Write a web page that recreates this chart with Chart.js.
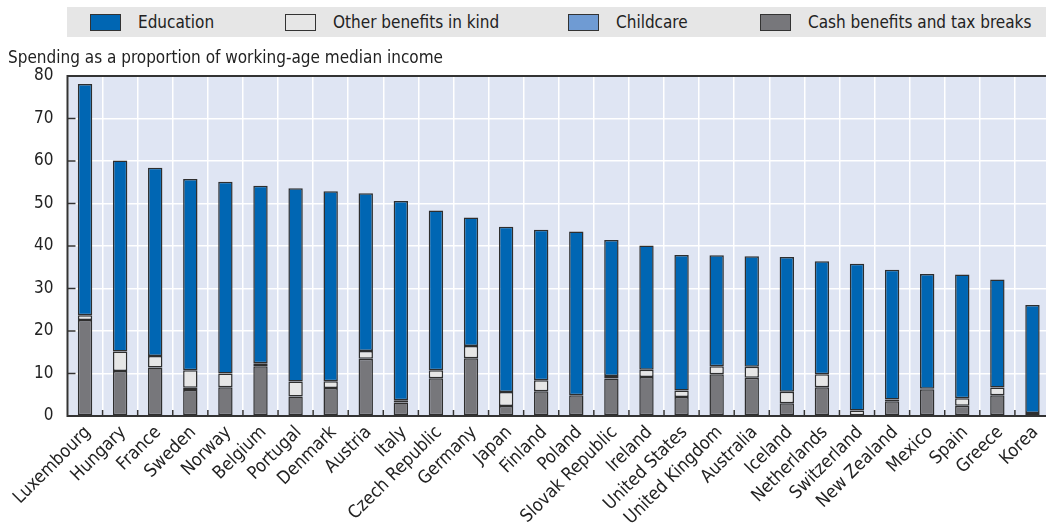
<!DOCTYPE html>
<html>
<head>
<meta charset="utf-8">
<script src="https://cdn.jsdelivr.net/npm/chart.js@4.4.1/dist/chart.umd.min.js"></script>
<style>
  html, body { margin: 0; padding: 0; overflow: hidden; background: #ffffff; width: 1046px; height: 530px; }
  #wrap { position: relative; width: 1046px; height: 530px; overflow: hidden; }
  canvas { position: absolute; left: 0; top: 0; }
  .legend { position: absolute; left: 67px; top: 7px; width: 1000px; height: 30px; background: #e6e6e6; }
  .item { position: absolute; top: 0; height: 30px; display: flex; align-items: center;
          font-family: 'Liberation Sans Narrow', 'DejaVu Sans Condensed', 'Roboto Condensed', sans-serif;
          font-size: 17px; color: #222; white-space: nowrap; }
  .swatch { width: 29px; height: 15px; border: 1px solid #333; margin-right: 17px; }
  .ytitle { position: absolute; left: 8px; top: 47px;
            font-family: 'Liberation Sans Narrow', 'DejaVu Sans Condensed', 'Roboto Condensed', sans-serif;
            font-size: 17px; color: #222; white-space: nowrap; }
</style>
</head>
<body>
<div id="wrap">
  <canvas id="chart" width="1056" height="530"></canvas>
  <div class="legend" id="legend"></div>
  <div class="ytitle" id="ytitle"></div>
</div>
<script>
// Countries, ordered by total spending
const countries = ["Luxembourg", "Hungary", "France", "Sweden", "Norway", "Belgium", "Portugal",
  "Denmark", "Austria", "Italy", "Czech Republic", "Germany", "Japan", "Finland", "Poland",
  "Slovak Republic", "Ireland", "United States", "United Kingdom", "Australia", "Iceland",
  "Netherlands", "Switzerland", "New Zealand", "Mexico", "Spain", "Greece", "Korea"];

// Spending components (% of working-age median income)
const cashBenefits = [22.6, 10.6, 11.4, 6.1, 6.75, 11.7, 4.6, 6.6, 13.5, 3.2, 8.9, 13.6, 2.35, 5.8,
  4.9, 8.8, 9.2, 4.5, 9.8, 9.0, 3.0, 6.75, 0.2, 3.5, 6.3, 2.4, 4.9, 0.7];
const childcare = [0, 0, 0, 0.55, 0, 0, 0, 0, 0, 0, 0, 0, 0, 0,
  0, 0, 0, 0, 0, 0, 0, 0, 0, 0, 0, 0, 0, 0];
const otherInKind = [1.1, 4.6, 2.7, 4.1, 3.25, 0.7, 3.5, 1.6, 1.8, 0.5, 1.85, 2.9, 3.3, 2.6,
  0, 0.6, 1.7, 1.5, 1.9, 2.6, 2.7, 3.05, 1.1, 0.4, 0.1, 1.8, 1.8, 0];
const education = [54.4, 44.9, 44.3, 45.0, 45.1, 41.8, 45.5, 44.7, 37.1, 46.9, 37.6, 30.2, 38.9, 35.4,
  38.5, 32.0, 29.2, 31.9, 26.1, 26.0, 31.7, 26.6, 34.5, 30.5, 27.0, 29.1, 25.4, 25.4];

// Y axis
const yMin = 0, yMax = 80, yStep = 10;
const yTitle = "Spending as a proportion of working-age median income";

const FONT = "'Liberation Sans Narrow', 'DejaVu Sans Condensed', 'Roboto Condensed', sans-serif";
const colors = {
  education: "#0066b3",
  other: "#e6e6e6",
  childcare: "#6f9bd3",
  cash: "#77777b"
};

// Stacked bottom-to-top: cash, childcare, other, education
const datasets = [
  { label: "Cash benefits and tax breaks", data: cashBenefits, backgroundColor: colors.cash },
  { label: "Childcare", data: childcare, backgroundColor: colors.childcare },
  { label: "Other benefits in kind", data: otherInKind, backgroundColor: colors.other },
  { label: "Education", data: education, backgroundColor: colors.education }
].map(d => Object.assign(d, {
  borderColor: "#2e2e2e",
  borderWidth: 1.5,
  borderSkipped: false,
  categoryPercentage: 1.0,
  barPercentage: 0.41
}));

// Legend strip (Education, Other, Childcare, Cash)
const legendOrder = [3, 2, 1, 0];
const legendX = [23, 218, 501, 693];
const legendEl = document.getElementById("legend");
legendOrder.forEach((di, i) => {
  const it = document.createElement("div");
  it.className = "item";
  it.style.left = legendX[i] + "px";
  const sw = document.createElement("div");
  sw.className = "swatch";
  sw.style.background = datasets[di].backgroundColor;
  it.appendChild(sw);
  it.appendChild(document.createTextNode(datasets[di].label));
  legendEl.appendChild(it);
});
document.getElementById("ytitle").textContent = yTitle;

// Plot background, frame and inward tick marks
const framePlugin = {
  id: "frame",
  beforeDraw(chart) {
    const a = chart.chartArea, c = chart.ctx;
    c.save();
    c.fillStyle = "#dfe5f3";
    c.fillRect(a.left, a.top, a.right - a.left, a.bottom - a.top);
    c.restore();
  },
  afterDatasetsDraw(chart) {
    const a = chart.chartArea, c = chart.ctx;
    const xs = chart.scales.x, ys = chart.scales.y;
    c.save();
    c.strokeStyle = "#333333";
    c.lineWidth = 1.5;
    // inward ticks on the y axis
    for (let v = yMin + yStep; v < yMax; v += yStep) {
      const y = ys.getPixelForValue(v);
      c.beginPath(); c.moveTo(a.left, y); c.lineTo(a.left + 8, y); c.stroke();
    }
    // inward ticks between categories on the x axis
    for (let i = 1; i < countries.length; i++) {
      const x = (xs.getPixelForValue(i - 1) + xs.getPixelForValue(i)) / 2;
      c.beginPath(); c.moveTo(x, a.bottom); c.lineTo(x, a.bottom - 6); c.stroke();
    }
    c.lineWidth = 2;
    c.beginPath();
    c.moveTo(a.right + 5, a.top);
    c.lineTo(a.left, a.top);
    c.lineTo(a.left, a.bottom);
    c.lineTo(a.right + 5, a.bottom);
    c.stroke();
    c.restore();
  }
};

const canvas = document.getElementById("chart");
new Chart(canvas, {
  type: "bar",
  data: { labels: countries, datasets },
  options: {
    responsive: false,
    animation: false,
    devicePixelRatio: 1,
    layout: { padding: { top: 76, right: 6, bottom: 0, left: 0 } },
    plugins: { legend: { display: false }, tooltip: { enabled: false } },
    scales: {
      x: {
        stacked: true,
        grid: { offset: true, color: "#ffffff", lineWidth: 1.5, drawTicks: false },
        border: { display: false },
        ticks: {
          autoSkip: false, maxRotation: 45, minRotation: 45, padding: 6, labelOffset: 3,
          color: "#222222", font: { family: FONT, size: 18 }
        },
        afterFit(s) { s.height = 114; }
      },
      y: {
        stacked: true,
        min: yMin, max: yMax,
        grid: { color: "#ffffff", lineWidth: 1.5, drawTicks: false },
        border: { display: false },
        ticks: {
          stepSize: yStep, padding: 14,
          color: "#222222", font: { family: FONT, size: 17 }
        },
        afterFit(s) { s.width = 67.5; }
      }
    }
  },
  plugins: [framePlugin]
});
</script>
</body>
</html>
